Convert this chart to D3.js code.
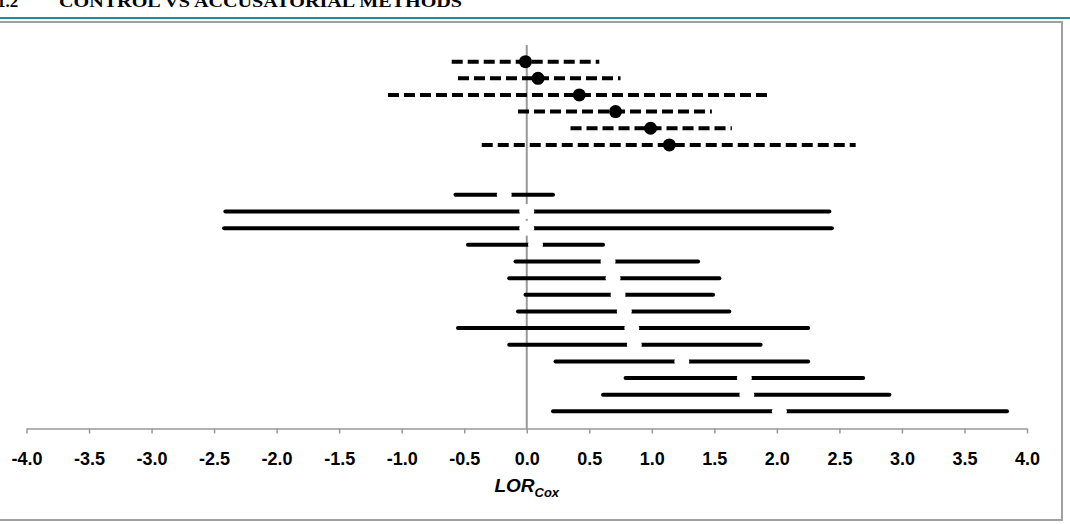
<!DOCTYPE html>
<html>
<head>
<meta charset="utf-8">
<script src="https://cdn.jsdelivr.net/npm/d3@7"></script>
<style>
    body { margin: 0; background: white; }
    svg { display: block; }
</style>
</head>
<body>
<div class="forest-plot"></div>
<script>
// Dashed rows (with a black point estimate)
const dashedEst = [-0.01, 0.09, 0.42, 0.71, 0.99, 1.14]
const dashedLo = [-0.60, -0.55, -1.11, -0.07, 0.35, -0.36]
const dashedHi = [0.58, 0.75, 1.94, 1.48, 1.64, 2.63]

// Solid rows (point estimate hidden by a white marker)
const solidEst = [-0.18, 0.00, 0.00, 0.07, 0.65, 0.69, 0.73, 0.78, 0.84, 0.86, 1.24, 1.74, 1.76, 2.02]
const solidLo = [-0.57, -2.41, -2.42, -0.47, -0.09, -0.14, -0.01, -0.07, -0.55, -0.14, 0.23, 0.79, 0.61, 0.21]
const solidHi = [0.21, 2.42, 2.44, 0.61, 1.37, 1.54, 1.49, 1.62, 2.25, 1.87, 2.25, 2.69, 2.90, 3.84]

const xTicks = d3.range(-4, 4.01, 0.5)

const width = 1070
const height = 524

let dashed = dashedEst.map((d, i) => ({row: i + 1, est: d, lo: dashedLo[i], hi: dashedHi[i]}))
// two empty rows between the groups
let solid = solidEst.map((d, i) => ({row: i + 9, est: d, lo: solidLo[i], hi: solidHi[i]}))

let svg = d3.select('.forest-plot')
    .append('svg')
    .attr('width', width)
    .attr('height', height)

// page header, cut off at the top like the scan
svg.append('text')
    .attr('x', -3)
    .attr('y', 7)
    .attr('font-family', 'Liberation Serif, DejaVu Serif, serif')
    .attr('font-weight', 'bold')
    .attr('font-size', 17)
    .text('1.2')

svg.append('text')
    .attr('x', 59)
    .attr('y', 7)
    .attr('font-family', 'Liberation Serif, DejaVu Serif, serif')
    .attr('font-weight', 'bold')
    .attr('font-size', 17)
    .attr('textLength', 403)
    .attr('lengthAdjust', 'spacingAndGlyphs')
    .text('CONTROL VS ACCUSATORIAL METHODS')

svg.append('line')
    .attr('x1', 0).attr('x2', width)
    .attr('y1', 18).attr('y2', 18)
    .style('stroke', '#31849b')
    .style('stroke-width', 2)

// chart frame
svg.append('rect')
    .attr('x', -1)
    .attr('y', 22)
    .attr('width', 1063)
    .attr('height', 498)
    .style('fill', 'white')
    .style('stroke', '#a0a0a0')
    .style('stroke-width', 2)

let x = d3.scaleLinear()
    .domain([-4, 4])
    .range([26.5, 1027])

let y = d3.scaleLinear()
    .domain([0, 23])
    .range([45, 428])

// x axis
let axis = svg.append('g')
    .attr('transform', 'translate(0,428.5)')
    .call(d3.axisBottom(x)
        .tickValues(xTicks)
        .tickFormat(d => d.toFixed(1))
        .tickSize(5)
        .tickSizeOuter(0)
        .tickPadding(19))

axis.select('.domain')
    .style('stroke', '#999')
    .style('stroke-width', 1.5)
axis.selectAll('.tick line')
    .style('stroke', '#999')
    .style('stroke-width', 1.5)
axis.selectAll('.tick text')
    .attr('font-family', 'Liberation Sans, Arial, sans-serif')
    .attr('font-weight', 'bold')
    .attr('font-size', 18)
    .attr('fill', 'black')

// axis title LOR_Cox
let title = svg.append('text')
    .attr('x', x(0))
    .attr('y', 492)
    .attr('text-anchor', 'middle')
    .attr('font-family', 'Liberation Sans, Arial, sans-serif')
    .attr('font-weight', 'bold')
    .attr('font-style', 'italic')
    .attr('font-size', 19)
title.append('tspan').text('LOR')
title.append('tspan')
    .attr('font-size', 13)
    .attr('dy', 5)
    .text('Cox')

// vertical zero line
svg.append('line')
    .attr('x1', x(0)).attr('x2', x(0))
    .attr('y1', 45).attr('y2', 428.5)
    .style('stroke', '#999')
    .style('stroke-width', 2)

// dashed intervals
svg.append('g')
    .selectAll('line')
    .data(dashed)
    .enter()
    .append('line')
    .attr('x1', d => x(d.lo))
    .attr('x2', d => x(d.hi))
    .attr('y1', d => y(d.row))
    .attr('y2', d => y(d.row))
    .style('stroke', 'black')
    .style('stroke-width', 4)
    .style('stroke-dasharray', '11,5')

svg.append('g')
    .selectAll('circle')
    .data(dashed)
    .enter()
    .append('circle')
    .attr('cx', d => x(d.est))
    .attr('cy', d => y(d.row))
    .attr('r', 6.5)
    .style('fill', 'black')

// solid intervals
svg.append('g')
    .selectAll('line')
    .data(solid)
    .enter()
    .append('line')
    .attr('x1', d => x(d.lo))
    .attr('x2', d => x(d.hi))
    .attr('y1', d => y(d.row))
    .attr('y2', d => y(d.row))
    .style('stroke', 'black')
    .style('stroke-width', 4)
    .style('stroke-linecap', 'round')

svg.append('g')
    .selectAll('circle')
    .data(solid)
    .enter()
    .append('circle')
    .attr('cx', d => x(d.est))
    .attr('cy', d => y(d.row))
    .attr('r', 7.5)
    .style('fill', 'white')
</script>
</body>
</html>
